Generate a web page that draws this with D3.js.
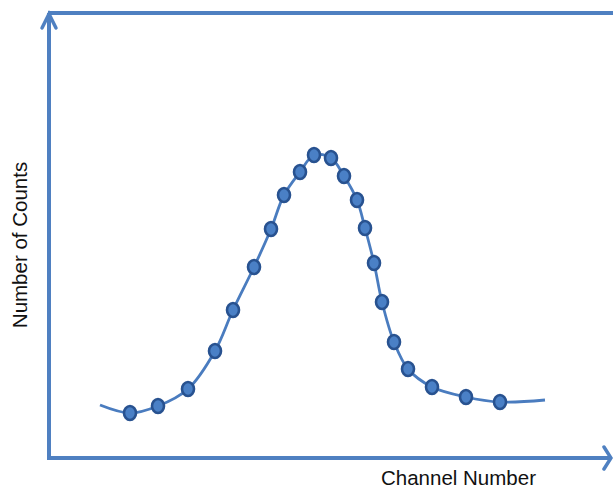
<!DOCTYPE html>
<html>
<head>
<meta charset="utf-8">
<script src="https://cdn.jsdelivr.net/npm/d3@7"></script>
<style>
  html, body { margin: 0; padding: 0; background: #fff; }
  svg { display: block; }
</style>
</head>
<body>
<svg id="chart" width="613" height="494"></svg>
<script>
// Data (arbitrary channel / count units)
const channels = [81,109,139,166,184,205,222,235,251,265,282,295,308,316,325,333,345,359,383,417,451];
const counts   = [45,52,69,107,148,191,229,263,286,303,300,282,258,230,195,156,116,89,71,61,56];
// fitted curve extends beyond the measured points
const curveStart = [51, 53];
const curveEnd   = [496, 58];
const xLabel = "Channel Number";
const yLabel = "Number of Counts";

const svg = d3.select("#chart");
const W = 613, H = 494;
const mLeft = 49, mRight = 613, mTop = 13, mBottom = 458;

const x = d3.scaleLinear().domain([0, 564]).range([mLeft, mRight]);
const y = d3.scaleLinear().domain([0, 445]).range([mBottom, mTop]);

const axisColor = "#4f80c1";
const lineColor = "#4a7cbf";

// frame: left axis, top line, bottom axis
const g = svg.append("g");
g.append("line").attr("x1", x(0)).attr("x2", x(0)).attr("y1", y(0) + 2).attr("y2", y(445))
  .attr("stroke", axisColor).attr("stroke-width", 4);
g.append("line").attr("x1", x(0) - 1).attr("x2", W).attr("y1", y(445)).attr("y2", y(445))
  .attr("stroke", axisColor).attr("stroke-width", 4);
g.append("line").attr("x1", x(0) - 2).attr("x2", W - 3).attr("y1", y(0)).attr("y2", y(0))
  .attr("stroke", axisColor).attr("stroke-width", 4);
// arrowheads
g.append("path")
  .attr("d", `M${x(0) - 7},${y(445) + 15} L${x(0)},${y(445) + 1} L${x(0) + 7},${y(445) + 15}`)
  .attr("fill", "none").attr("stroke", axisColor).attr("stroke-width", 3.5).attr("stroke-linecap", "round");
g.append("path")
  .attr("d", `M${W - 9},${y(0) - 11} L${W - 2},${y(0)} L${W - 9},${y(0) + 11}`)
  .attr("fill", "none").attr("stroke", axisColor).attr("stroke-width", 3.5).attr("stroke-linecap", "round");

// smooth curve
const pts = [curveStart].concat(channels.map((c, i) => [c, counts[i]]), [curveEnd]);
const line = d3.line().x(d => x(d[0])).y(d => y(d[1])).curve(d3.curveCatmullRom.alpha(0.5));
svg.append("path").attr("d", line(pts)).attr("fill", "none")
  .attr("stroke", lineColor).attr("stroke-width", 2.8);

// markers
svg.append("g").selectAll("ellipse").data(channels).join("ellipse")
  .attr("cx", d => x(d)).attr("cy", (d, i) => y(counts[i]))
  .attr("rx", 6).attr("ry", 7)
  .attr("fill", "#4a80c6").attr("stroke", "#285290").attr("stroke-width", 2.6);

// labels
svg.append("text").attr("x", 381).attr("y", 485)
  .attr("font-family", "Liberation Sans, Arial, sans-serif").attr("font-size", 20.5)
  .attr("fill", "#111").text(xLabel);
svg.append("text").attr("transform", "translate(27,245) rotate(-90)")
  .attr("text-anchor", "middle")
  .attr("font-family", "Liberation Sans, Arial, sans-serif").attr("font-size", 20.5)
  .attr("fill", "#111").text(yLabel);
</script>
</body>
</html>
